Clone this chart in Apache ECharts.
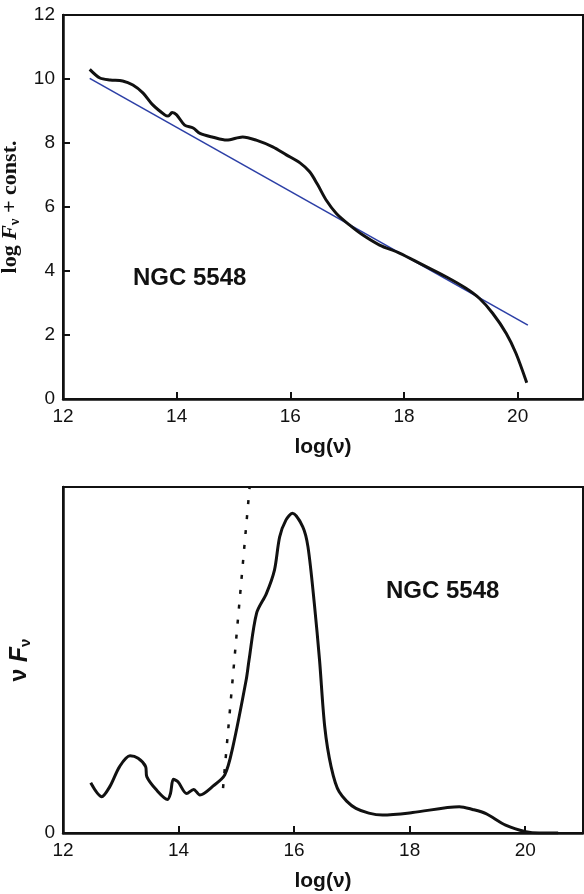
<!DOCTYPE html>
<html>
<head>
<meta charset="utf-8">
<script src="https://cdn.jsdelivr.net/npm/echarts@6/dist/echarts.min.js"></script>
<style>
  html, body { margin: 0; padding: 0; background: #fff; }
  #chart { width: 584px; height: 894px; }
</style>
</head>
<body>
<div id="chart"></div>
<script>
// top panel: log F_nu spectrum + power-law fit
var topX = [12.47, 12.65, 12.83, 13.05, 13.23, 13.41, 13.58, 13.79, 13.85, 13.92, 14.0, 14.14, 14.29, 14.41, 14.64, 14.88, 15.16, 15.4, 15.69, 15.93, 16.17, 16.34, 16.48, 16.63, 16.81, 17.04, 17.27, 17.57, 17.92, 18.33, 18.74, 19.09, 19.33, 19.56, 19.8, 19.97, 20.16];
var topY = [10.3, 10.03, 9.97, 9.94, 9.81, 9.56, 9.19, 8.88, 8.84, 8.95, 8.88, 8.56, 8.47, 8.3, 8.18, 8.09, 8.19, 8.09, 7.88, 7.63, 7.38, 7.1, 6.7, 6.22, 5.8, 5.44, 5.13, 4.81, 4.56, 4.19, 3.82, 3.46, 3.14, 2.68, 2.05, 1.43, 0.51];
var fitX = [12.47, 20.18];
var fitY = [10.02, 2.31];

// bottom panel: nu F_nu
var botX = [12.48, 12.67, 12.81, 12.98, 13.16, 13.3, 13.43, 13.45, 13.62, 13.81, 13.86, 13.91, 13.99, 14.14, 14.26, 14.37, 14.6, 14.8, 14.94, 15.17, 15.22, 15.35, 15.52, 15.66, 15.75, 15.86, 15.97, 16.15, 16.24, 16.35, 16.44, 16.53, 16.64, 16.78, 17.07, 17.53, 18.05, 18.86, 19.09, 19.32, 19.66, 20.01, 20.24, 20.57];
var botY = [1.45, 1.05, 1.34, 1.92, 2.23, 2.16, 1.92, 1.63, 1.24, 0.97, 1.14, 1.55, 1.48, 1.14, 1.26, 1.1, 1.36, 1.68, 2.49, 4.42, 5.0, 6.35, 6.92, 7.6, 8.56, 9.05, 9.24, 8.85, 8.27, 6.63, 5.0, 3.07, 1.92, 1.19, 0.71, 0.52, 0.59, 0.76, 0.68, 0.56, 0.23, 0.04, 0, 0];
var dotX = [14.77, 15.23];
var dotY = [1.3, 10.0];

var xTicks = [12, 14, 16, 18, 20];
var sourceName = 'NGC 5548';

function pairs(xs, ys) {
  return xs.map(function (x, i) { return [x, ys[i]]; });
}

var ink = '#111';
var sans = 'Liberation Sans, Arial, sans-serif';
var serif = 'Liberation Serif, Times New Roman, serif';

function xAxisFor(gi, max) {
  return {
    type: 'value', gridIndex: gi, min: 12, max: max, interval: 2,
    name: 'log(\u03bd)', nameLocation: 'middle', nameGap: 38,
    nameTextStyle: { fontFamily: sans, fontWeight: 'bold', fontSize: 21, color: ink },
    axisLine: { show: true, onZero: false, lineStyle: { color: ink, width: 2.5 } },
    axisTick: { show: true, inside: true, length: 7, lineStyle: { color: ink, width: 2 } },
    axisLabel: {
      fontFamily: sans, fontSize: 19, color: ink, margin: 8,
      showMaxLabel: false,
      formatter: function (v) { return xTicks.indexOf(v) >= 0 ? String(v) : ''; }
    },
    splitLine: { show: false }
  };
}

var myChart = echarts.init(document.getElementById('chart'), null, { renderer: 'canvas' });

var option = {
  animation: false,
  backgroundColor: '#fff',
  grid: [
    { left: 63, top: 15, width: 520, height: 384, outerBoundsMode: 'none', containLabel: false, show: true, borderColor: ink, borderWidth: 2, backgroundColor: 'transparent' },
    { left: 63, top: 487, width: 520, height: 346, outerBoundsMode: 'none', containLabel: false, show: true, borderColor: ink, borderWidth: 2, backgroundColor: 'transparent' }
  ],
  xAxis: [xAxisFor(0, 21.15), xAxisFor(1, 21)],
  yAxis: [
    {
      type: 'value', gridIndex: 0, min: 0, max: 12, interval: 2,
      name: '{t|log }{f|F}{s|\u03bd}{t| + const.}',
      nameLocation: 'middle', nameGap: 31, nameRotate: 90,
      nameTextStyle: {
        rich: {
          t: { fontFamily: serif, fontWeight: 'bold', fontSize: 22, color: ink, lineHeight: 25 },
          f: { fontFamily: serif, fontWeight: 'bold', fontStyle: 'italic', fontSize: 22, color: ink, lineHeight: 25 },
          s: { fontFamily: serif, fontWeight: 'bold', fontSize: 15, color: ink, lineHeight: 15, verticalAlign: 'bottom' }
        }
      },
      axisLine: { show: true, lineStyle: { color: ink, width: 2.5 } },
      axisTick: { show: true, inside: true, length: 7, lineStyle: { color: ink, width: 2 } },
      axisLabel: { fontFamily: sans, fontSize: 19, color: ink, margin: 8 },
      splitLine: { show: false }
    },
    {
      type: 'value', gridIndex: 1, min: 0, max: 10, interval: 10,
      name: '{n|\u03bd }{f|F}{s|\u03bd}',
      nameLocation: 'middle', nameGap: 30, nameRotate: 90,
      nameTextStyle: {
        rich: {
          n: { fontFamily: sans, fontWeight: 'bold', fontSize: 23, color: ink, lineHeight: 26 },
          f: { fontFamily: sans, fontWeight: 'bold', fontStyle: 'italic', fontSize: 25, color: ink, lineHeight: 26 },
          s: { fontFamily: sans, fontWeight: 'bold', fontSize: 15, color: ink, lineHeight: 15, verticalAlign: 'bottom' }
        }
      },
      axisLine: { show: true, lineStyle: { color: ink, width: 2.5 } },
      axisTick: { show: false },
      axisLabel: {
        fontFamily: sans, fontSize: 19, color: ink, margin: 8,
        formatter: function (v) { return v === 0 ? '0' : ''; }
      },
      splitLine: { show: false }
    }
  ],
  graphic: [
    { type: 'text', left: 133, top: 266, style: { text: sourceName, font: 'bold 24px ' + sans, fill: ink } },
    { type: 'text', left: 386, top: 579, style: { text: sourceName, font: 'bold 24px ' + sans, fill: ink } }
  ],
  series: [
    {
      name: 'fit', type: 'line', xAxisIndex: 0, yAxisIndex: 0,
      data: pairs(fitX, fitY), showSymbol: false,
      lineStyle: { color: '#2c3fa6', width: 1.6 }, z: 2
    },
    {
      name: 'log Fnu', type: 'line', xAxisIndex: 0, yAxisIndex: 0,
      data: pairs(topX, topY), showSymbol: false, smooth: 0.3,
      lineStyle: { color: ink, width: 3 }, z: 3
    },
    {
      name: 'nuFnu', type: 'line', xAxisIndex: 1, yAxisIndex: 1,
      data: pairs(botX, botY), showSymbol: false, smooth: 0.3,
      lineStyle: { color: ink, width: 3 }, z: 3
    },
    {
      name: 'dotted', type: 'line', xAxisIndex: 1, yAxisIndex: 1,
      data: pairs(dotX, dotY), showSymbol: false,
      lineStyle: { color: ink, width: 2.5, type: [4, 11] }, z: 2
    }
  ]
};

myChart.setOption(option);
window.addEventListener('resize', myChart.resize);
</script>
</body>
</html>
